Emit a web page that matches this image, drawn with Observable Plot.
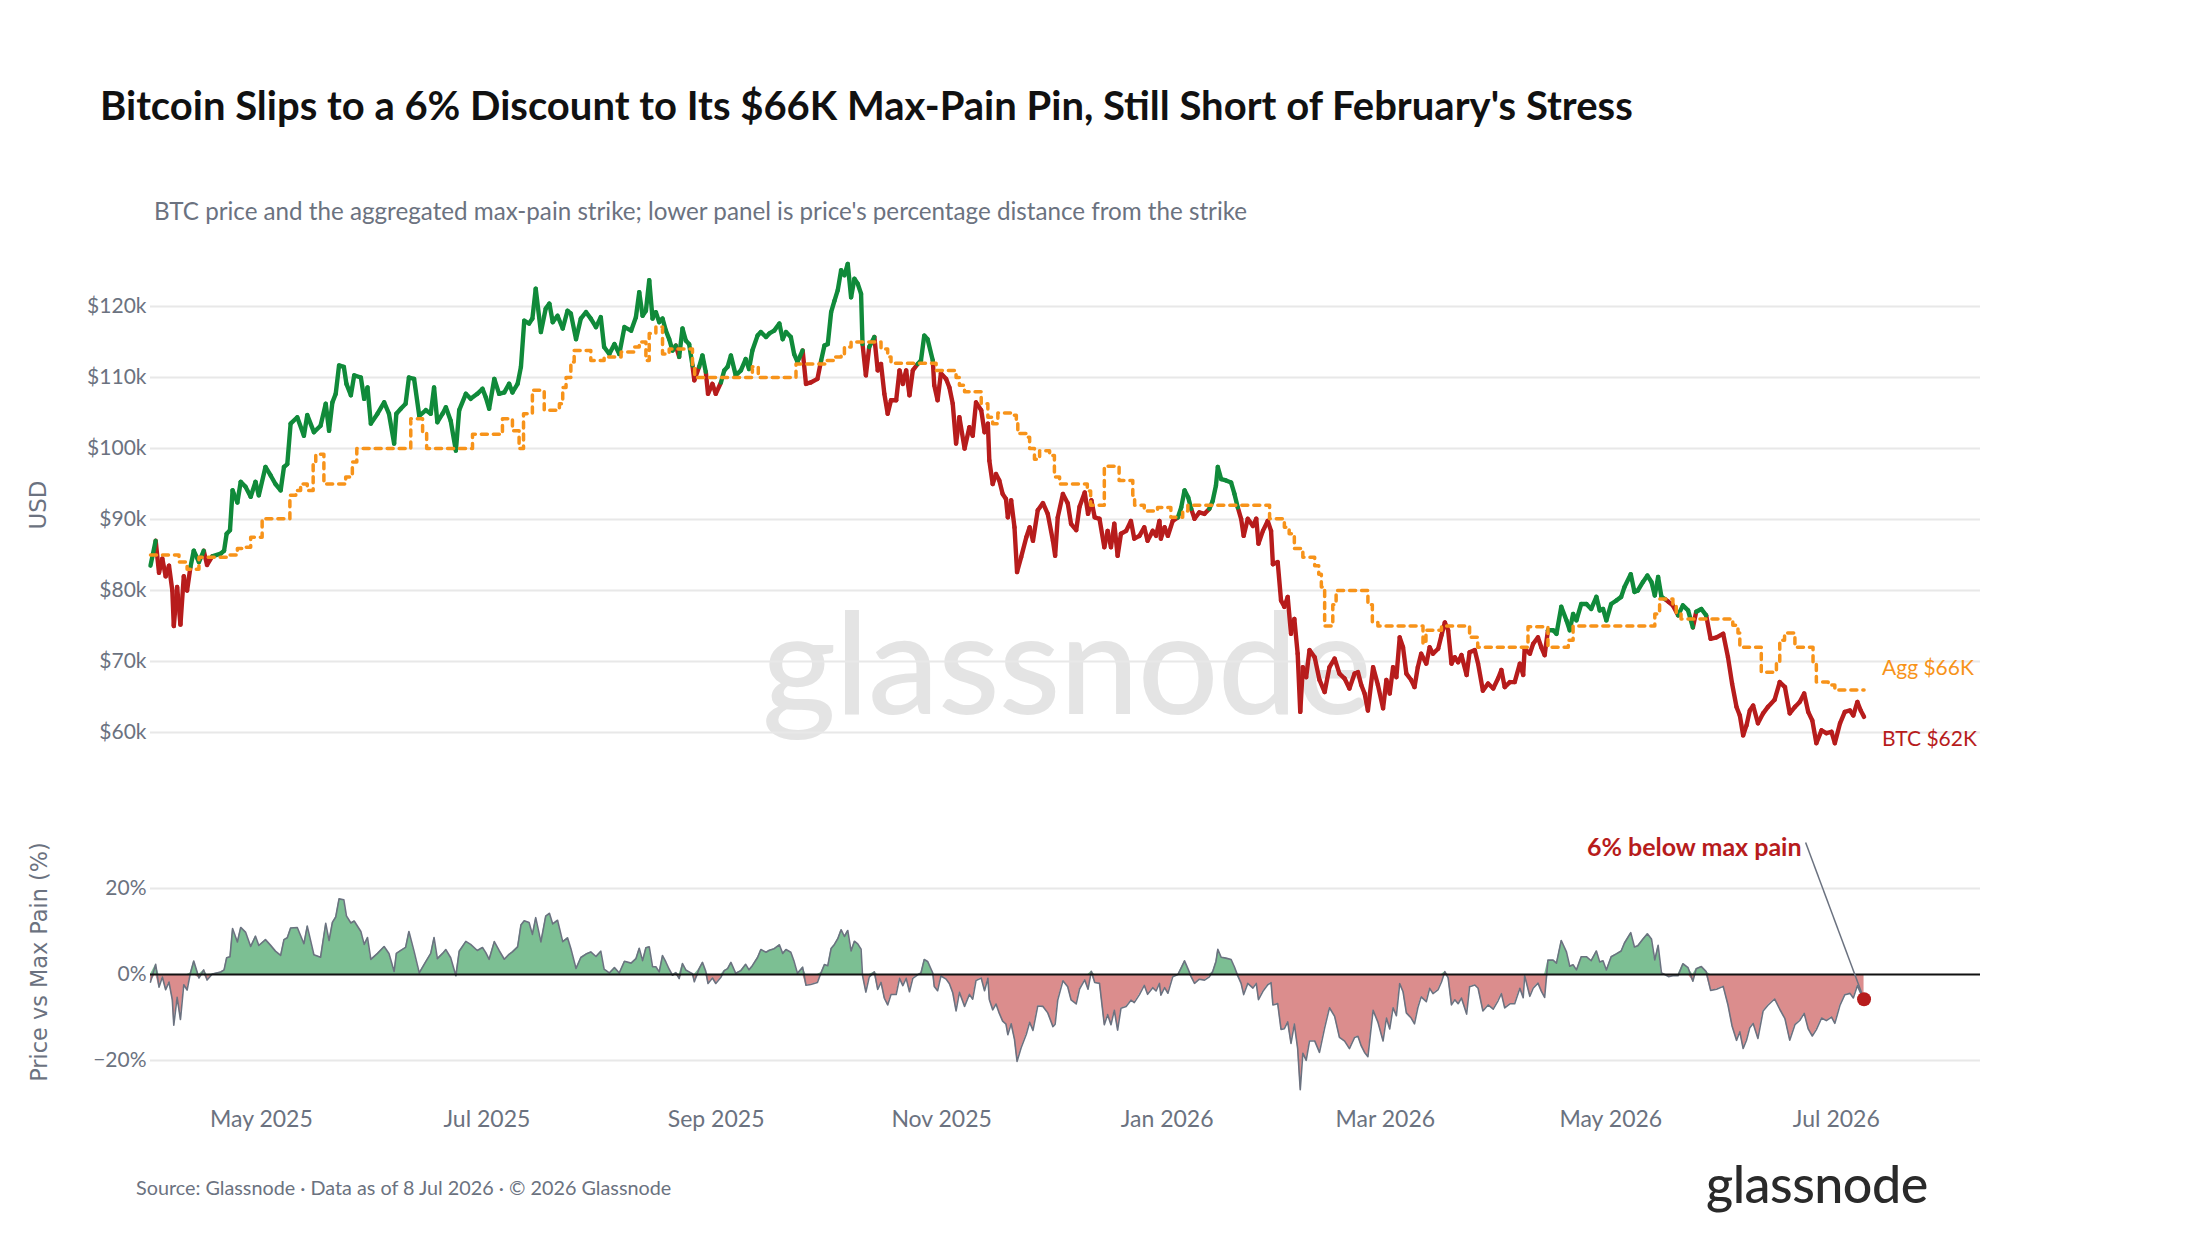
<!DOCTYPE html>
<html>
<head>
<meta charset="utf-8">
<script src="https://cdn.jsdelivr.net/npm/d3@7"></script>
<script src="https://cdn.jsdelivr.net/npm/@observablehq/plot@0.6"></script>
<style>
  html, body { margin: 0; padding: 0; background: #fff; }
  #root { position: relative; width: 2200px; height: 1240px; overflow: hidden; font-family: Lato, "Open Sans", sans-serif; background: #fff; }
  .abs { position: absolute; white-space: nowrap; line-height: 1; }
  #title { left: 100px; top: 85px; font-size: 40px; font-weight: 700; color: #111; }
  #subtitle { left: 154px; top: 199px; font-size: 24.2px; color: #6b7280; }
  #source { left: 136px; top: 1178px; font-size: 19.8px; color: #6b7280; }
  #logo { left: 1706px; top: 1157px; font-size: 52px; font-weight: 500; color: #2a2a2a; letter-spacing: -0.5px; }
  #watermark { left: 762px; top: 588px; font-size: 142px; font-weight: 500; color: #e4e4e4; letter-spacing: -1px; }
  .ytitle { font-family: "DejaVu Sans", sans-serif; font-size: 23px; color: #6b7280; transform: translate(-50%, -50%) rotate(-90deg); }
  #usd { left: 38px; top: 505px; }
  #pctTitle { left: 39px; top: 962px; font-size: 22.4px; }
  #mainWrap { position: absolute; left: 0; top: 240px; }
  #lowerWrap { position: absolute; left: 0; top: 820px; }
</style>
</head>
<body>
<div id="root">
  <div id="watermark" class="abs">glassnode</div>
  <div id="title" class="abs">Bitcoin Slips to a 6% Discount to Its $66K Max-Pain Pin, Still Short of February's Stress</div>
  <div id="subtitle" class="abs">BTC price and the aggregated max-pain strike; lower panel is price's percentage distance from the strike</div>
  <div id="usd" class="abs ytitle">USD</div>
  <div id="pctTitle" class="abs ytitle">Price vs Max Pain (%)</div>
  <div id="mainWrap"></div>
  <div id="lowerWrap"></div>
  <div id="source" class="abs">Source: Glassnode · Data as of 8 Jul 2026 · © 2026 Glassnode</div>
  <div id="logo" class="abs">glassnode</div>
</div>
<script>
// ---------------- DATA (day offset from 1 Apr 2025, value in $k) ----------------
const btcSeries = [
  [0,83.5],[1.4,87.0],[2.3,82.5],[3.2,84.5],[4.1,82.0],[5.0,83.5],[5.9,80.0],[6.3,75.0],[7.2,80.5],[8.1,75.2],[9.0,82.0],[9.9,80.0],[10.8,83.3],[11.7,85.6],[13.1,84.0],[14.4,85.6],[15.3,83.6],[16.7,84.8],[19.0,85.2],[19.9,85.6],[20.6,88.0],[21.5,88.5],[22.2,94.1],[23.5,92.4],[24.4,95.3],[25.7,94.6],[27.1,93.2],[28.4,95.3],[29.3,93.4],[31.1,97.4],[32.5,96.2],[33.8,95.0],[35.2,94.1],[36.1,97.4],[37.0,97.8],[37.9,103.5],[39.7,104.4],[41.5,101.8],[42.4,104.7],[44.2,102.3],[46.0,103.2],[47.4,106.3],[48.3,102.5],[49.2,106.5],[50.1,107.7],[51.0,111.7],[52.3,111.5],[53.0,109.1],[54.2,107.5],[55.1,110.3],[56.9,110.0],[57.8,107.0],[58.7,108.6],[59.6,103.5],[61.4,104.9],[63.2,106.5],[64.5,104.9],[65.9,100.7],[66.5,104.9],[67.7,105.6],[69.0,106.3],[69.9,110.0],[71.3,109.8],[72.7,104.6],[74.5,105.4],[75.8,104.9],[76.7,108.6],[77.6,103.7],[79.0,104.9],[79.9,105.8],[81.2,103.9],[82.6,99.7],[83.5,105.4],[85.3,107.7],[86.6,107.0],[88.4,107.7],[89.8,108.4],[90.7,107.2],[91.6,105.6],[93.0,109.8],[94.3,107.7],[95.7,107.9],[97.0,109.1],[97.9,107.9],[99.3,109.1],[100.2,111.5],[101.1,118.0],[102.4,117.6],[103.3,118.3],[104.2,122.5],[105.6,116.4],[106.9,119.7],[107.9,120.4],[108.8,117.8],[110.1,118.7],[111.5,116.9],[112.8,119.4],[113.7,119.0],[115.1,115.4],[116.4,118.3],[117.8,119.2],[119.1,118.3],[120.5,117.1],[121.8,118.5],[122.7,114.3],[124.1,113.3],[125.5,114.7],[126.8,113.3],[128.2,117.1],[130.0,116.6],[131.3,118.5],
  [132.2,122.0],[133.1,118.7],[134.0,119.4],[134.9,123.7],[135.8,118.3],[136.7,119.2],[137.6,117.8],[138.5,118.3],[139.4,116.6],[140.3,115.4],[141.2,113.8],[142.1,114.5],[143.0,112.9],[143.9,116.9],[144.8,115.2],[145.7,114.7],[146.6,111.7],[147.1,109.6],[148.4,111.5],[149.3,113.1],[150.2,110.8],[150.8,107.7],[152.0,109.1],[152.9,107.7],[154.3,109.3],[155.2,111.0],[156.1,111.5],[157.0,113.1],[158.3,110.3],[159.7,111.0],[161.0,112.6],[161.9,111.2],[162.8,113.8],[164.2,115.9],[165.1,116.4],[166.5,115.7],[167.4,116.2],[168.7,116.6],[170.1,117.6],[171.0,115.4],[171.9,116.4],[173.2,115.7],[174.1,113.3],[175.0,112.2],[176.4,113.8],[177.3,109.1],[178.6,109.3],[180.4,109.8],[181.4,112.4],[182.3,114.5],[183.2,114.7],[184.1,119.2],[185.0,120.8],[185.9,122.3],[186.8,125.1],[187.7,124.4],[188.6,126.0],[189.5,121.3],[190.4,123.9],[191.3,123.2],[192.2,121.8],[192.6,114.7],[193.5,110.3],[194.4,114.3],[195.8,115.7],[196.7,111.0],[197.6,111.9],[198.5,107.7],[199.4,104.9],[200.3,106.8],[201.7,106.8],[202.6,111.0],[203.5,109.1],[204.4,111.0],[205.3,107.5],[206.2,111.0],[207.5,111.9],[208.4,112.4],[209.3,115.9],[210.2,115.4],[211.6,112.4],[212.0,108.9],[212.9,106.8],[213.8,110.6],[215.2,109.8],[216.1,108.6],[217.0,106.3],[217.9,100.7],[218.8,104.4],[220.2,100.0],[221.5,103.0],[222.4,101.8],[223.3,106.5],[224.7,105.4],[225.6,102.3],[226.5,103.5],[226.9,98.3],[227.8,95.0],[228.7,96.4],[229.6,95.5],[230.5,93.6],[231.4,92.9],[231.9,90.3],[232.8,92.7],[233.7,88.9],[234.4,82.6],[235.5,84.7],[236.9,87.5],[237.8,88.9],[238.7,87.0],[240.0,91.3],[241.4,92.3],[242.7,90.8],[244.1,87.0],[244.7,84.9],[245.4,90.3],[246.8,93.6],[248.1,92.3],[249.0,89.4],[250.4,88.5],[251.3,91.8],[252.7,93.8],[253.6,90.8],[254.5,92.7],[255.4,90.3],[256.7,90.1],
  [258.0,86.1],[258.9,88.4],[259.8,86.1],[260.7,89.4],[261.6,84.9],[262.5,88.0],[263.9,88.4],[265.2,89.8],[266.1,87.3],[267.5,87.7],[268.8,88.9],[269.7,87.0],[271.1,88.4],[272.0,87.7],[272.9,89.8],[273.3,87.3],[274.3,88.9],[275.2,87.7],[276.5,89.8],[277.9,90.3],[278.8,91.7],[279.7,94.1],[280.7,93.1],[281.5,91.5],[282.4,90.1],[283.7,91.0],[285.1,90.8],[286.4,91.5],[287.3,92.6],[288.2,94.8],[288.7,97.4],[289.6,95.7],[290.9,95.5],[292.3,95.2],[293.2,93.6],[294.1,91.7],[295.0,90.1],[295.7,87.7],[296.8,90.1],[298.2,89.1],[299.1,90.1],[299.7,86.6],[300.9,88.4],[302.2,89.8],[303.1,88.4],[303.6,83.7],[304.9,84.0],[305.8,78.6],[306.7,77.7],[307.6,79.1],[308.5,73.9],[309.4,76.0],[310.3,71.1],[311.0,62.9],[311.7,69.2],[312.6,67.8],[313.5,71.6],[314.9,70.6],[316.2,67.4],[317.6,65.7],[318.9,69.2],[320.3,70.4],[321.6,68.3],[323.0,67.6],[324.3,66.2],[325.7,68.3],[326.6,68.5],[327.5,66.7],[328.4,65.5],[329.3,63.1],[330.7,69.2],[332.0,66.7],[333.4,63.4],[334.3,67.4],[335.2,65.5],[336.1,69.2],[337.0,67.8],[337.9,73.4],[338.8,72.0],[339.7,68.3],[341.0,67.4],[341.9,66.4],[342.8,69.2],[343.7,71.1],[345.1,69.7],[346.0,72.0],[346.9,71.1],[348.3,71.8],[349.2,73.7],[350.1,75.5],[351.0,74.4],[351.9,69.7],[352.8,70.6],[353.7,69.9],[354.6,70.9],[356.0,68.1],[356.8,71.3],[358.2,71.6],[359.1,69.7],[360.4,65.9],[361.8,66.9],[363.2,66.2],[364.5,67.6],[365.4,68.8],[366.3,66.4],[367.7,67.1],[369.0,67.1],[370.4,69.7],[371.3,68.1],[371.7,71.8],[373.1,71.1],[374.0,72.5],[375.3,73.4],[376.2,72.0],[377.1,70.9],[378.0,74.4],[379.4,74.4],[380.3,73.9],[381.6,77.7],[383.0,75.8],[383.9,74.4],[384.8,76.7],[385.7,75.8],
  [387.0,78.1],[388.4,78.1],[389.7,77.4],[391.1,79.1],[392.0,77.2],[392.9,77.4],[393.8,75.8],[395.1,78.1],[396.5,78.6],[397.8,79.1],[398.7,80.5],[400.4,82.3],[401.4,79.8],[402.3,80.0],[403.7,81.2],[404.9,82.1],[406.0,81.2],[406.9,79.3],[407.8,81.9],[408.7,79.1],[409.6,78.8],[410.6,78.4],[411.8,77.9],[413.2,76.5],[414.5,77.9],[415.9,77.2],[417.2,74.8],[418.1,77.0],[419.5,77.4],[420.8,76.5],[422.0,73.2],[423.6,73.4],[425.4,73.9],[426.7,70.6],[427.8,66.9],[429.0,63.6],[429.9,62.4],[430.8,59.6],[431.7,61.0],[432.6,63.1],[433.5,63.8],[434.8,61.3],[436.2,62.7],[437.5,63.6],[439.3,64.6],[440.7,67.1],[442.1,66.4],[443.4,62.7],[444.8,63.6],[446.1,64.3],[447.3,65.5],[448.4,62.9],[449.5,61.7],[450.6,58.5],[452.0,60.3],[453.3,59.9],[454.7,60.1],[455.6,58.5],[457.0,61.3],[458.3,62.9],[459.7,63.1],[460.6,62.4],[461.7,64.3],[462.6,63.1],[463.5,62.2]
];

// aggregated max-pain strike: [day where level starts, level $k]
const maxPainSteps = [
  [0,85.0],[7.7,84.0],[9.9,83.0],[13.1,84.7],[20.8,85.0],[23.5,85.9],[25.7,86.1],[27.1,87.5],[30.2,90.1],[37.7,93.4],[39.3,94.1],[40.6,95.0],[42.4,94.1],[44.0,97.8],[44.7,99.2],[46.9,95.0],[52.8,96.0],[54.6,98.1],[55.8,100.0],[70.4,104.2],[73.6,102.3],[74.7,100.0],[87.1,102.0],[95.2,104.2],[97.9,102.5],[99.7,100.0],[100.9,104.9],[103.3,108.2],[106.5,105.4],[110.6,106.3],[111.5,108.6],[112.4,110.0],[113.7,112.2],[114.6,113.8],[119.1,112.4],[122.7,112.9],[127.3,113.6],[130.8,114.3],[132.2,115.0],[134.0,112.4],[134.9,116.2],[136.7,117.1],[138.5,113.3],[140.3,114.0],[146.6,111.5],[147.2,110.0],[162.8,111.5],[164.4,110.0],[174.6,111.9],[182.7,112.4],[185.0,112.9],[186.8,113.3],[187.7,114.3],[189.5,115.0],[197.6,114.0],[199.4,112.9],[200.3,112.0],[212.5,111.0],[217.9,110.0],[218.8,108.9],[220.2,108.0],[224.7,106.3],[226.5,104.4],[227.8,103.5],[229.2,105.0],[232.8,104.7],[234.2,103.5],[234.6,102.1],[236.9,101.6],[237.8,100.0],[239.1,98.5],[240.5,99.7],[243.2,99.0],[244.5,96.0],[245.9,95.0],[253.4,94.0],[254.3,92.0],[258.0,97.5],[262.0,95.5],[265.7,93.4],[266.2,92.0],[268.8,91.2],[272.4,91.7],[276.0,90.3],[279.2,91.2],[280.6,92.0],[302.7,90.1],[306.7,88.9],[308.0,88.0],[309.4,85.9],[311.7,84.7],[314.9,83.5],[316.0,82.3],[316.7,80.5],[317.6,75.0],[319.8,78.0],[320.7,80.0],[329.3,78.0],[330.5,75.5],[332.0,75.0],[344.2,72.5],[345.0,74.4],[349.2,75.0],[356.8,73.4],[359.0,72.0],[372.6,74.9],[378.0,72.0],[383.5,73.0],[384.8,75.0],[406.9,76.7],[408.2,78.8],[411.8,78.1],[412.7,76.7],[414.0,76.0],[428.0,75.1],[429.4,74.0],[429.9,72.0],[435.7,68.5],[439.8,70.0],[440.7,73.0],[442.0,74.0],[444.8,72.0],[449.7,69.7],[450.6,67.1],[453.8,66.7],[455.6,66.0],[463.5,66.0]
];

const priceTicks = [60, 70, 80, 90, 100, 110, 120];
const pctTicks = [-20, 0, 20];
const monthTicks = ["2025-05-01","2025-07-01","2025-09-01","2025-11-01","2026-01-01","2026-03-01","2026-05-01","2026-07-01"];
const annotation = {label: "6% below max pain", day: 446.6, pct: 29.5, lineDay: 447.7, linePct: 30.7};

// ---------------- BUILD ----------------
const START = Date.UTC(2025, 3, 1);
const END = Date.UTC(2026, 7, 9);
const toDate = d => new Date(START + d * 864e5);
const GREEN = "#108a3a", RED = "#b71c1c", ORANGE = "#f7931a", SLATE = "#6b7280";

const mp = maxPainSteps.map(([d, v]) => ({day: d, date: toDate(d), value: v}));
const mpAt = day => { let v = mp[0].value; for (const s of mp) { if (s.day <= day + 1e-9) v = s.value; else break; } return v; };
const btc = btcSeries.map(([d, p]) => {
  const m = mpAt(d);
  return {day: d, date: toDate(d), price: p, mp: m, pct: (p / m - 1) * 100};
});
const segs = d3.pairs(btc).map(([a, b]) => ({a, b, above: (a.pct + b.pct) / 2 >= 0}));
const lastB = btc[btc.length - 1];
const lastM = mp[mp.length - 1];
const xDomain = [new Date(START), new Date(END)];
const fontFamily = "Lato, 'Open Sans', sans-serif";

const linkOpts = color => ({
  x1: s => s.a.date, y1: s => s.a.price, x2: s => s.b.date, y2: s => s.b.price,
  stroke: color, strokeWidth: 4.4, strokeLinecap: "round", strokeLinejoin: "round"
});

const main = Plot.plot({
  width: 2200, height: 530,
  marginLeft: 150, marginRight: 220, marginTop: 9.2, marginBottom: 9.6,
  style: {background: "transparent", overflow: "visible", fontFamily, color: SLATE},
  x: {type: "utc", domain: xDomain, axis: null},
  y: {domain: [56, 128]},
  marks: [
    Plot.gridY(priceTicks, {stroke: "#e8e8e8", strokeOpacity: 1, strokeWidth: 2}),
    Plot.axisY(priceTicks, {tickSize: 0, tickPadding: 4, tickFormat: d => `$${d}k`, fontSize: 21, label: null}),
    Plot.link(segs.filter(s => !s.above), linkOpts(RED)),
    Plot.link(segs.filter(s => s.above), linkOpts(GREEN)),
    Plot.line(mp, {x: "date", y: "value", curve: "step-after", stroke: ORANGE, strokeWidth: 3.5, strokeDasharray: "6,6"}),
    Plot.text([lastM], {x: "date", y: "value", text: d => `Agg $${Math.round(d.value)}K`, dx: 18, dy: -22, textAnchor: "start", fill: ORANGE, fontSize: 21}),
    Plot.text([lastB], {x: "date", y: "price", text: d => `BTC $${Math.round(d.price)}K`, dx: 18, dy: 22, textAnchor: "start", fill: RED, fontSize: 21})
  ]
});
document.getElementById("mainWrap").append(main);

const fmtPct = d => d === 0 ? "0%" : (d < 0 ? "\u2212" : "") + Math.abs(d) + "%";
const annotData = [{...annotation, date: toDate(annotation.day), lineDate: toDate(annotation.lineDay)}];

const lower = Plot.plot({
  width: 2200, height: 330,
  marginLeft: 150, marginRight: 220, marginTop: 16.4, marginBottom: 55.6,
  style: {background: "transparent", overflow: "visible", fontFamily, color: SLATE},
  x: {type: "utc", domain: xDomain},
  y: {domain: [-28, 32]},
  marks: [
    Plot.gridY([-20, 20], {stroke: "#e8e8e8", strokeOpacity: 1, strokeWidth: 2}),
    Plot.areaY(btc, {x: "date", y1: 0, y2: d => Math.max(0, d.pct), fill: GREEN, fillOpacity: 0.55}),
    Plot.areaY(btc, {x: "date", y1: 0, y2: d => Math.min(0, d.pct), fill: RED, fillOpacity: 0.5}),
    Plot.line(btc, {x: "date", y: "pct", stroke: SLATE, strokeWidth: 1.6}),
    Plot.ruleY([0], {stroke: "#111", strokeWidth: 2}),
    Plot.axisY(pctTicks, {tickSize: 0, tickPadding: 4, tickFormat: fmtPct, fontSize: 21, label: null}),
    Plot.axisX(monthTicks.map(s => new Date(s + "T00:00:00Z")), {tickSize: 0, tickPadding: 16, tickFormat: d3.utcFormat("%b %Y"), fontSize: 23, label: null}),
    Plot.link(annotData, {x1: "lineDate", y1: "linePct", x2: () => lastB.date, y2: () => lastB.pct, stroke: SLATE, strokeWidth: 1.5}),
    Plot.dot([lastB], {x: "date", y: "pct", r: 7, fill: RED}),
    Plot.text(annotData, {x: "date", y: "pct", text: "label", textAnchor: "end", fill: RED, fontSize: 25, fontWeight: "bold"})
  ]
});
document.getElementById("lowerWrap").append(lower);
</script>
</body>
</html>
